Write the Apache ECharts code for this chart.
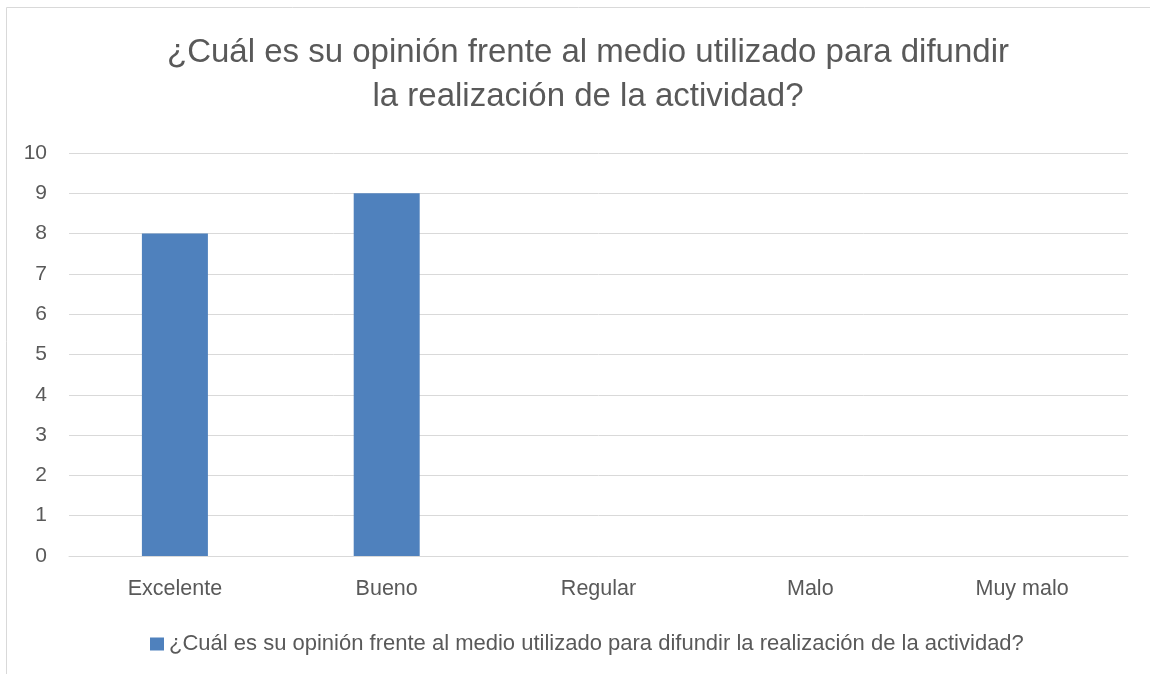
<!DOCTYPE html>
<html>
<head>
    <meta charset="UTF-8">
    <title>Opinión medio</title>
    <script src="https://cdn.jsdelivr.net/npm/echarts@6/dist/echarts.min.js"></script>
</head>
<body style="margin:0;background:#fff;">
    <div id="chartBox" style="width:1150px;height:674px;"></div>
    <script>
        var categories = ['Excelente', 'Bueno', 'Regular', 'Malo', 'Muy malo'];
        var values = [8, 9, 0, 0, 0];
        var seriesName = '¿Cuál es su opinión frente al medio utilizado para difundir la realización de la actividad?';
        var titleText = '¿Cuál es su opinión frente al medio utilizado para difundir\nla realización de la actividad?';

        var font = 'Liberation Sans';
        var myChart = echarts.init(document.getElementById('chartBox'));
        var option = {
            animation: false,
            graphic: [{
                type: 'rect',
                shape: { x: 6.5, y: 7.5, width: 1200, height: 700 },
                style: { fill: 'none', stroke: '#d9d9d9', lineWidth: 1 }
            }],
            title: {
                text: titleText,
                left: 583,
                textAlign: 'center',
                top: 26,
                textStyle: {
                    color: '#595959',
                    fontFamily: font,
                    fontWeight: 'normal',
                    fontSize: 33,
                    lineHeight: 44
                }
            },
            legend: {
                top: 628,
                left: 145,
                itemWidth: 14,
                itemHeight: 13,
                icon: 'rect',
                itemGap: 4,
                textStyle: { color: '#595959', fontFamily: font, fontSize: 22 }
            },
            grid: { left: 69, right: 22, top: 153, bottom: 118 },
            xAxis: {
                type: 'category',
                data: categories,
                axisLine: { lineStyle: { color: '#d9d9d9' } },
                axisTick: { show: false },
                axisLabel: { color: '#595959', fontFamily: font, fontSize: 21.5, margin: 22 }
            },
            yAxis: {
                type: 'value',
                min: 0,
                max: 10,
                interval: 1,
                axisLine: { show: false },
                axisTick: { show: false },
                splitLine: { lineStyle: { color: '#d9d9d9' } },
                axisLabel: { color: '#595959', fontFamily: font, fontSize: 21, margin: 22 }
            },
            series: [{
                name: seriesName,
                type: 'bar',
                data: values,
                barWidth: 66,
                itemStyle: { color: '#4f81bd' }
            }]
        };
        myChart.setOption(option);
    </script>
</body>
</html>
